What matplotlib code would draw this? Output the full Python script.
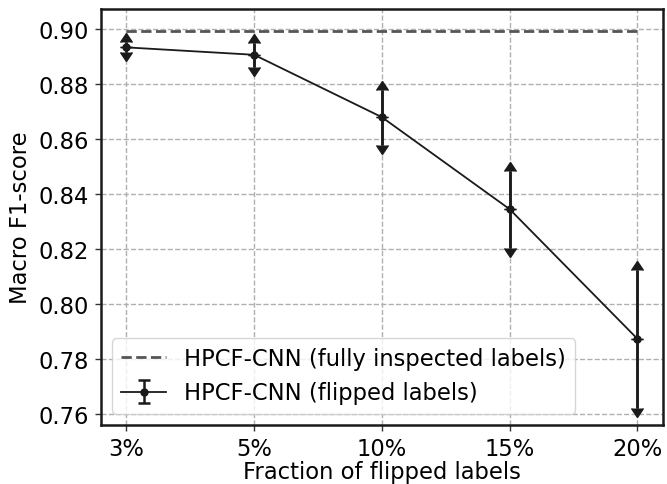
import matplotlib
matplotlib.use("Agg")
import matplotlib.pyplot as plt
import numpy as np

categories = ["3%", "5%", "10%", "15%", "20%"]
f1_flipped = [0.8934, 0.8907, 0.8680, 0.8345, 0.7873]
f1_err = [0.0018, 0.0043, 0.0100, 0.0140, 0.0250]
f1_full = 0.8995

plt.rcParams['font.family'] = ['DejaVu Sans']
fig = plt.figure(figsize=(6.67, 4.85), dpi=100)
ax = fig.add_axes([0.151, 0.122, 0.843, 0.857])

x = np.arange(len(categories))
ax.plot([x[0], x[-1]], [f1_full, f1_full], linestyle='--', color='#555555', lw=2,
        label='HPCF-CNN (fully inspected labels)', zorder=3)
main = ax.errorbar(x, f1_flipped, yerr=f1_err, color='#1a1a1a',
                   lw=1.3, elinewidth=1.8, marker='o', markersize=5, capsize=4,
                   capthick=1.8, label='HPCF-CNN (flipped labels)', zorder=5)
# arrow-headed limits
ax.errorbar(x, f1_flipped, yerr=f1_err, lolims=True, color='#1a1a1a', ls='none',
            elinewidth=1.8, capsize=4.5, zorder=4)
ax.errorbar(x, f1_flipped, yerr=f1_err, uplims=True, color='#1a1a1a', ls='none',
            elinewidth=1.8, capsize=4.5, zorder=4)

ax.set_xticks(x)
ax.set_xticklabels(categories)
ax.set_ylim(0.756, 0.9073)
ax.set_xlim(-0.2, 4.2)
ax.set_yticks(np.arange(0.76, 0.901, 0.02))
ax.yaxis.set_major_formatter(matplotlib.ticker.FormatStrFormatter('%.2f'))
ax.grid(True, linestyle='--', color='#b0b0b0', lw=1)
ax.set_axisbelow(True)
for s in ax.spines.values():
    s.set_color('#1a1a1a')
    s.set_linewidth(1.8)
ax.tick_params(labelsize=16.3, length=4.5, width=1, pad=4, color='#333333')
ax.set_xlabel('Fraction of flipped labels', fontsize=16.3, labelpad=0)
ax.set_ylabel('Macro F1-score', fontsize=16.3, labelpad=5)
ax.legend(loc='lower left', fontsize=16.3, framealpha=0.8, edgecolor='#cccccc')

# hide flat caps in the plot (legend keeps them)
for c in main[1]:
    c.set_visible(False)

fig.savefig('out.png', dpi=100)
